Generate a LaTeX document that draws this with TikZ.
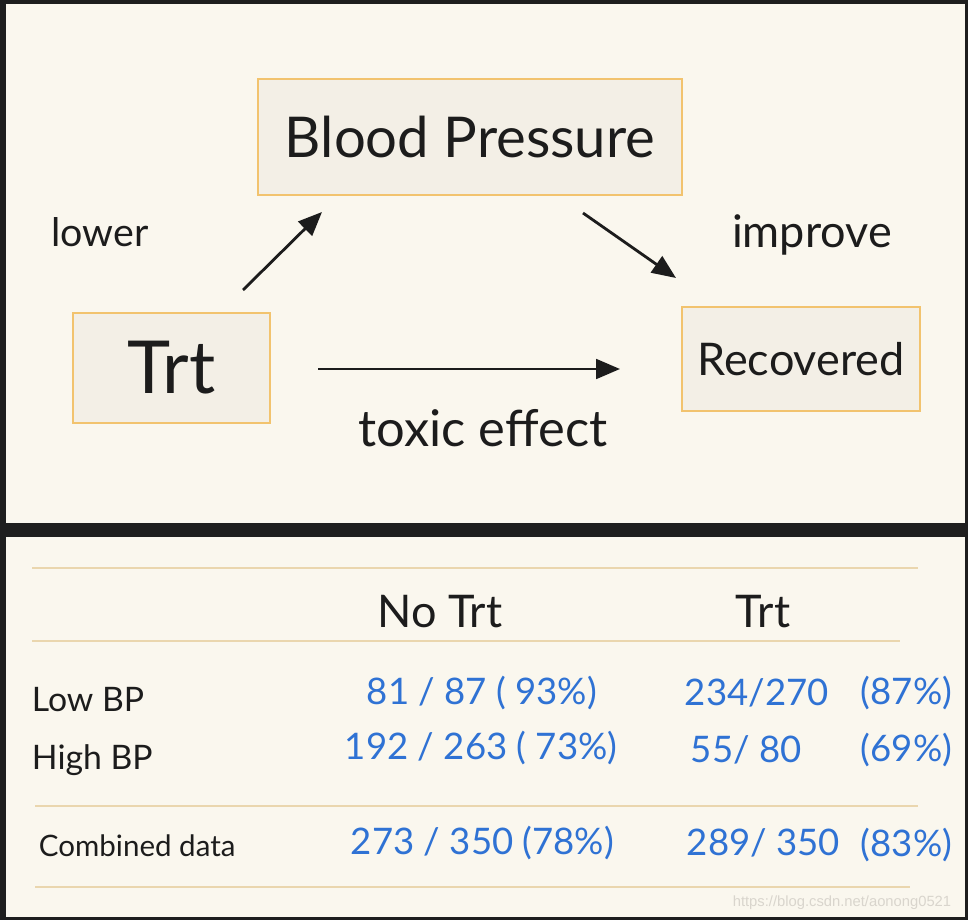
\documentclass[tikz,border=0pt]{standalone}
\usepackage{fontspec}
\setmainfont{Lato}
\newfontfamily\wmfont{Liberation Sans}
\usetikzlibrary{arrows.meta}
\definecolor{frame}{HTML}{1E1E1E}
\definecolor{paper}{HTML}{FAF7EE}
\definecolor{boxfill}{HTML}{F3EFE6}
\definecolor{boxline}{HTML}{F2C36E}
\definecolor{ruleline}{HTML}{EAD6AE}
\definecolor{ink}{HTML}{1C1C1C}
\definecolor{pen}{HTML}{2F72D4}
\definecolor{wmgray}{HTML}{D9D5CD}
\tikzset{
  hand/.style={text=ink,font=\fontsize{#1}{#1}\selectfont},
  blue/.style={text=pen,anchor=west,font=\fontsize{26}{26}\selectfont},
  row/.style={anchor=west,hand=24},
  box/.style={rectangle,draw=boxline,fill=boxfill,line width=2pt},
  arr/.style={ink,line width=2pt,-{Triangle[length=17pt,width=14pt]}},
  rule/.style={ruleline,line width=1.5pt}
}
\begin{document}
\begin{tikzpicture}[x=0.025cm,y=-0.025cm]
	\fill[frame] (0,0) rectangle (968,920);
	\fill[paper] (6,4) rectangle (965,523);
	\fill[paper] (6,537) rectangle (965,917);

	\node[box,minimum width=10.6cm,minimum height=2.9cm,hand=40] (bp) at (470,137) {Blood Pressure};
	\node[box,minimum width=4.925cm,minimum height=2.75cm,hand=52] (trt) at (171.5,368) {Trt};
	\node[box,minimum width=5.95cm,minimum height=2.6cm,hand=32] (rec) at (801,359) {Recovered};

	\node[hand=28] (lower) at (100,232) {lower};
	\node[hand=32] (improve) at (812,235) {improve};
	\node[hand=36] (toxic) at (483,428) {toxic effect};

	\coordinate (lowerA) at (243,290);
	\coordinate (lowerB) at (322,212);
	\coordinate (impA) at (583,213);
	\coordinate (impB) at (676,278);
	\coordinate (toxA) at (318,369);
	\coordinate (toxB) at (620,369);
	\draw[arr] (lowerA) -- (lowerB);
	\draw[arr] (impA) -- (impB);
	\draw[arr] (toxA) -- (toxB);

	\coordinate (r1a) at (32,568);  \coordinate (r1b) at (918,568);
	\coordinate (r2a) at (32,641);  \coordinate (r2b) at (900,641);
	\coordinate (r3a) at (35,806);  \coordinate (r3b) at (918,806);
	\coordinate (r4a) at (35,887);  \coordinate (r4b) at (910,887);
	\draw[rule] (r1a) -- (r1b);
	\draw[rule] (r2a) -- (r2b);
	\draw[rule] (r3a) -- (r3b);
	\draw[rule] (r4a) -- (r4b);

	\node[hand=32] (notrt) at (440,612) {No Trt};
	\node[hand=32] (trthead) at (763,612) {Trt};

	\node[row] (lowbp) at (27,700) {Low BP};
	\node[row] (highbp) at (27,760) {High BP};
	\node[row,hand=21] (comb) at (34,846) {Combined data};

	\node[blue] (lowno) at (362,693) {81 / 87 ( 93\%)};
	\node[blue] (lowyes) at (680,693) {234/270};
	\node[blue] (lowyesp) at (856,693) {(87\%)};
	\node[blue] (highno) at (340,748) {192 / 263 ( 73\%)};
	\node[blue] (highyes) at (686,750) {55/ 80};
	\node[blue] (highyesp) at (856,750) {(69\%)};
	\node[blue] (combno) at (346,843) {273 / 350 (78\%)};
	\node[blue] (combyes) at (682,843) {289/ 350};
	\node[blue] (combyesp) at (856,845) {(83\%)};

	\node[text=wmgray,font=\wmfont\fontsize{10.5}{10.5}\selectfont] (wm) at (842,903) {https://blog.csdn.net/aonong0521};
\end{tikzpicture}
\end{document}
